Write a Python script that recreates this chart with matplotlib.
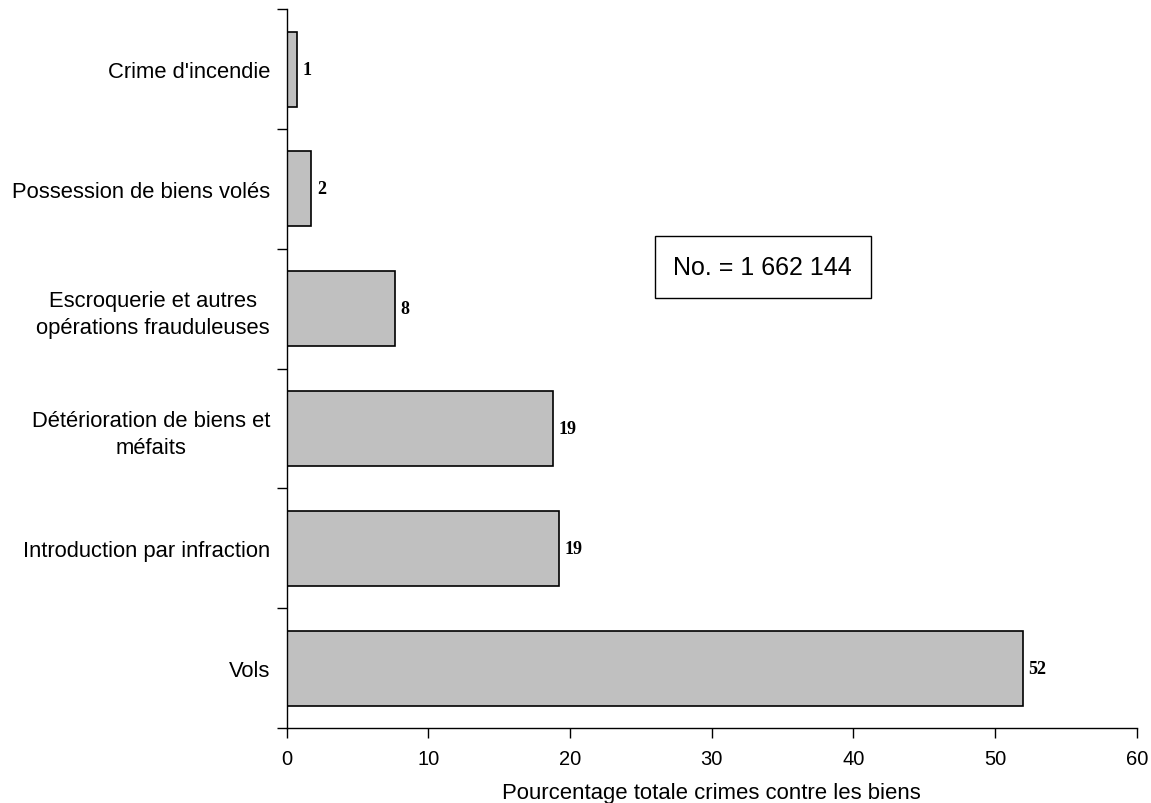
import matplotlib.pyplot as plt
import numpy as np

categories = ["Vols", "Introduction par infraction", "Détérioration de biens et\nméfaits",
              "Escroquerie et autres\nopérations frauduleuses", "Possession de biens volés",
              "Crime d'incendie"]
values = [51.95, 19.2, 18.8, 7.65, 1.75, 0.75]
labels = ["52", "19", "19", "8", "2", "1"]
total_text = "No. = 1 662 144"

plt.rcParams['font.family'] = ['Liberation Sans', 'DejaVu Sans']

fig = plt.figure(figsize=(11.51, 8.04), dpi=100)
ax = fig.add_axes([0.249, 0.0933, 0.7387, 0.894])

y = np.arange(len(categories))
bars = ax.barh(y, values, height=0.625, color='#c0c0c0', edgecolor='black', linewidth=1.2)

for yi, v, lab in zip(y, values, labels):
    ax.text(v + 0.4, yi, lab, va='center', ha='left', fontsize=13, fontweight='bold',
            family='Liberation Serif')

ax.set_xlim(0, 60)
ax.set_ylim(-0.5, len(categories) - 0.5)
ax.set_xticks(np.arange(0, 61, 10))
ax.set_yticks(y)
ax.set_yticklabels(categories)
for t in ax.get_yticklabels():
    t.set_multialignment('center')
    t.set_linespacing(1.35)
ax.tick_params(axis='y', length=0, labelsize=15.8, pad=12)
ax.set_yticks(np.arange(-0.5, len(categories), 1), minor=True)
ax.tick_params(axis='y', which='minor', length=7, width=1, direction='out')
ax.tick_params(axis='x', length=7, width=1, labelsize=14.5, pad=8)

ax.spines['top'].set_visible(False)
ax.spines['right'].set_visible(False)
for s in ['left', 'bottom']:
    ax.spines[s].set_linewidth(1)

ax.set_xlabel("Pourcentage totale crimes contre les biens", fontsize=15.9, labelpad=10)

ax.text(33.6, 3.35, total_text, ha='center', va='center', fontsize=18,
        bbox=dict(boxstyle='square,pad=0.75', facecolor='white', edgecolor='black', linewidth=1))

fig.savefig('out.png', dpi=100)
